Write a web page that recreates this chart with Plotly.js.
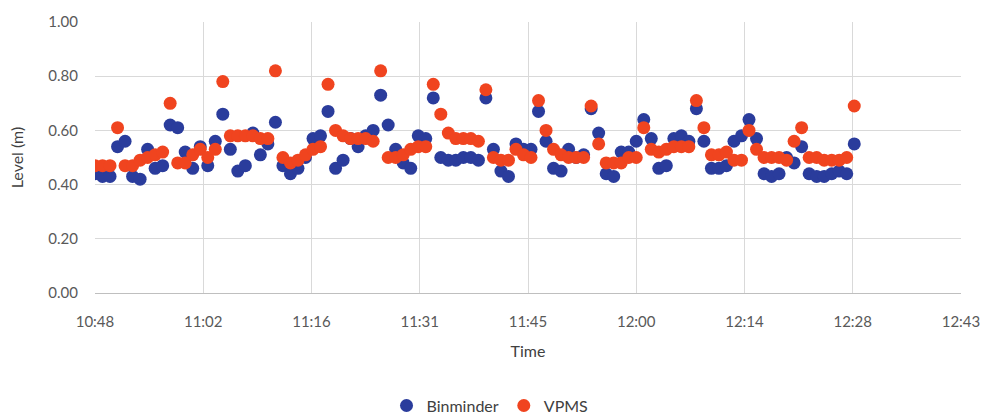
<!DOCTYPE html>
<html>
<head>
<meta charset="utf-8">
<script src="https://cdn.plot.ly/plotly-3.0.1.min.js"></script>
<style>html,body{margin:0;padding:0;background:#fff;}#chart{width:982px;height:416px;}</style>
</head>
<body>
<div id="chart"></div>
<script>
// Sample times (one reading per minute)
const times = [
"10:48","10:49","10:50","10:51","10:52","10:53","10:54","10:55","10:56","10:57",
"10:58","10:59","11:00","11:01","11:02","11:03","11:04","11:05","11:06","11:07",
"11:08","11:09","11:10","11:11","11:12","11:13","11:14","11:15","11:16","11:17",
"11:18","11:19","11:20","11:21","11:22","11:23","11:24","11:25","11:26","11:27",
"11:28","11:29","11:30","11:31","11:32","11:33","11:34","11:35","11:36","11:37",
"11:38","11:39","11:40","11:41","11:42","11:43","11:44","11:45","11:46","11:47",
"11:48","11:49","11:50","11:51","11:52","11:53","11:54","11:55","11:56","11:57",
"11:58","11:59","12:00","12:01","12:02","12:03","12:04","12:05","12:06","12:07",
"12:08","12:09","12:10","12:11","12:12","12:13","12:14","12:15","12:16","12:17",
"12:18","12:19","12:20","12:21","12:22","12:23","12:24","12:25","12:26","12:27",
"12:28","12:29"
];

const binminder = [
0.44,0.43,0.43,0.54,0.56,0.43,0.42,0.53,0.46,0.47,
0.62,0.61,0.52,0.46,0.54,0.47,0.56,0.66,0.53,0.45,
0.47,0.59,0.51,0.55,0.63,0.47,0.44,0.46,0.50,0.57,
0.58,0.67,0.46,0.49,0.57,0.54,0.58,0.60,0.73,0.62,
0.53,0.48,0.46,0.58,0.57,0.72,0.50,0.49,0.49,0.50,
0.50,0.49,0.72,0.53,0.45,0.43,0.55,0.53,0.53,0.67,
0.56,0.46,0.45,0.53,0.50,0.51,0.68,0.59,0.44,0.43,
0.52,0.52,0.56,0.64,0.57,0.46,0.47,0.57,0.58,0.56,
0.68,0.56,0.46,0.46,0.47,0.56,0.58,0.64,0.57,0.44,
0.43,0.44,0.50,0.48,0.54,0.44,0.43,0.43,0.44,0.45,
0.44,0.55
];

const vpms = [
0.47,0.47,0.47,0.61,0.47,0.47,0.49,0.50,0.51,0.52,
0.70,0.48,0.48,0.51,0.53,0.50,0.53,0.78,0.58,0.58,
0.58,0.58,0.57,0.57,0.82,0.50,0.48,0.49,0.51,0.53,
0.54,0.77,0.60,0.58,0.57,0.57,0.57,0.56,0.82,0.50,
0.50,0.51,0.53,0.54,0.54,0.77,0.66,0.59,0.57,0.57,
0.57,0.56,0.75,0.50,0.49,0.49,0.53,0.51,0.50,0.71,
0.60,0.53,0.51,0.50,0.50,0.50,0.69,0.55,0.48,0.48,
0.48,0.50,0.50,0.61,0.53,0.52,0.53,0.54,0.54,0.54,
0.71,0.61,0.51,0.51,0.52,0.49,0.49,0.60,0.53,0.50,
0.50,0.50,0.49,0.56,0.61,0.50,0.50,0.49,0.49,0.49,
0.50,0.69
];

const xTickLabels = ["10:48","11:02","11:16","11:31","11:45","12:00","12:14","12:28","12:43"];
const yTickLabels = ["0.00","0.20","0.40","0.60","0.80","1.00"];

const day = "2020-01-01 ";
const toDate = t => day + t + ":00";
const xs = times.map(toDate);

// Excel-style time axis: major unit 0.01 day (14.4 min) starting at 10:48
const startMs = new Date(2020,0,1,10,48,0).getTime();
const stepMs = 14.4*60*1000;
function fmt(ms){
  const d = new Date(ms);
  const p = n => String(n).padStart(2,"0");
  return "2020-01-01 " + p(d.getHours())+":"+p(d.getMinutes())+":"+p(d.getSeconds());
}
const xTickVals = xTickLabels.map((_,i)=>fmt(startMs + i*stepMs));
const xRange = [xTickVals[0], xTickVals[xTickVals.length-1]];
const yTickVals = yTickLabels.map(s=>parseFloat(s));

const FONT = "Lato, 'Open Sans', sans-serif";

const data = [
  {x: xs, y: binminder, name: "Binminder", type: "scatter", mode: "markers",
   marker: {color: "#2a3c9c", size: 13}},
  {x: xs, y: vpms, name: "VPMS", type: "scatter", mode: "markers",
   marker: {color: "#f0441f", size: 13}}
];

const layout = {
  width: 982, height: 416,
  margin: {l: 95, r: 21, t: 22, b: 123},
  paper_bgcolor: "#fff", plot_bgcolor: "#fff",
  font: {family: FONT, size: 15, color: "#595959"},
  showlegend: true,
  legend: {orientation: "h", xref: "container", yref: "container",
           x: 0.499, xanchor: "center", y: 0.025, yanchor: "middle",
           font: {family: FONT, size: 16, color: "#404040"}, itemwidth: 30, traceorder: "normal",
           tracegroupgap: 0},
  xaxis: {
    type: "date", range: xRange, tickmode: "array", tickvals: xTickVals, ticktext: xTickLabels,
    showgrid: true, gridcolor: "#d9d9d9", gridwidth: 1,
    showline: true, linecolor: "#bfbfbf", linewidth: 1,
    zeroline: false, ticks: "", ticklabelstandoff: 15,
    tickfont: {family: FONT, size: 15, color: "#595959"},
    title: {text: "Time", font: {family: FONT, size: 16, color: "#404040"}, standoff: 16},
    automargin: false
  },
  yaxis: {
    range: [0, 1], tickmode: "array", tickvals: yTickVals, ticktext: yTickLabels,
    showgrid: true, gridcolor: "#d9d9d9", gridwidth: 1,
    showline: false, zeroline: false, ticks: "", ticklabelstandoff: 16,
    tickfont: {family: FONT, size: 15, color: "#595959"},
    title: {text: "Level (m)", font: {family: FONT, size: 16, color: "#404040"}, standoff: 20},
    automargin: false
  }
};

Plotly.newPlot("chart", data, layout, {displayModeBar: false, staticPlot: true});
</script>
</body>
</html>
